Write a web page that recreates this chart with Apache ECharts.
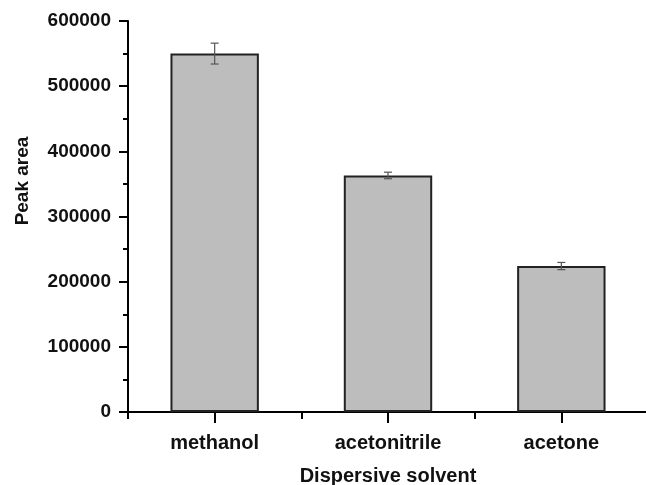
<!DOCTYPE html>
<html>
<head>
<meta charset="utf-8">
<script src="https://cdn.jsdelivr.net/npm/echarts@6/dist/echarts.min.js"></script>
<style>html,body{margin:0;padding:0;background:#fff;}#chart{width:646px;height:485px;}</style>
</head>
<body>
<div id="chart"></div>
<script>
const categories = ['methanol', 'acetonitrile', 'acetone'];
const peakArea = [550000, 363000, 224000];
const peakError = [16000, 5000, 5500];
const yMin = 0, yMax = 600000, yStep = 100000;

const errData = categories.map((c, i) => [i, peakArea[i] - peakError[i], peakArea[i] + peakError[i]]);
const FONT = '"Liberation Sans", Arial, sans-serif';

const chart = echarts.init(document.getElementById('chart'), null, {renderer: 'canvas'});
chart.setOption({
  animation: false,
  backgroundColor: '#fff',
  grid: {left: 128, right: -2, top: 21, bottom: 73, containLabel: false, outerBoundsMode: 'none'},
  xAxis: [{
    type: 'category',
    data: categories,
    position: 'bottom',
    axisLine: {lineStyle: {color: '#000', width: 2}},
    axisTick: {show: false},
    axisLabel: {color: '#111', fontSize: 20, fontWeight: 'bold', fontFamily: FONT, margin: 21},
    name: 'Dispersive solvent',
    nameLocation: 'middle',
    nameGap: 54,
    nameTextStyle: {color: '#111', fontSize: 20, fontWeight: 'bold', fontFamily: FONT}
  }, {
    // tick-only axis: boundaries at integers, category centres at the halves
    type: 'value',
    position: 'bottom',
    min: 0, max: categories.length, interval: 1,
    axisLine: {show: false},
    axisTick: {show: true, length: 7, lineStyle: {color: '#000', width: 2}},
    minorTick: {show: true, splitNumber: 2, length: 11, lineStyle: {color: '#000', width: 2}},
    splitLine: {show: false},
    minorSplitLine: {show: false},
    axisLabel: {show: false}
  }],
  yAxis: {
    type: 'value',
    min: yMin, max: yMax, interval: yStep,
    axisLine: {show: true, lineStyle: {color: '#000', width: 2}},
    axisTick: {show: true, length: 9, lineStyle: {color: '#000', width: 2}},
    minorTick: {show: true, splitNumber: 2, length: 5, lineStyle: {color: '#000', width: 2}},
    splitLine: {show: false},
    axisLabel: {color: '#111', fontSize: 19, fontWeight: 'bold', fontFamily: FONT, margin: 17,
      formatter: function (v) { return String(v); }}
  },
  graphic: [{
    type: 'text',
    x: 23, y: 181,
    rotation: Math.PI / 2,
    style: {text: 'Peak area', fill: '#111', font: 'bold 19px ' + FONT, align: 'center', verticalAlign: 'middle'}
  }],
  series: [{
    type: 'bar',
    data: peakArea,
    barWidth: '51%',
    itemStyle: {color: '#bdbdbd', borderColor: '#222', borderWidth: 2}
  }, {
    type: 'custom',
    data: errData,
    encode: {x: 0, y: [1, 2]},
    z: 5,
    renderItem: function (params, api) {
      const x = api.value(0);
      const lo = api.coord([x, api.value(1)]);
      const hi = api.coord([x, api.value(2)]);
      const w = 4;
      const style = {stroke: '#555', lineWidth: 1.2};
      return {type: 'group', children: [
        {type: 'line', shape: {x1: lo[0], y1: lo[1], x2: hi[0], y2: hi[1]}, style: style},
        {type: 'line', shape: {x1: lo[0] - w, y1: lo[1], x2: lo[0] + w, y2: lo[1]}, style: style},
        {type: 'line', shape: {x1: hi[0] - w, y1: hi[1], x2: hi[0] + w, y2: hi[1]}, style: style}
      ]};
    }
  }]
});
</script>
</body>
</html>
